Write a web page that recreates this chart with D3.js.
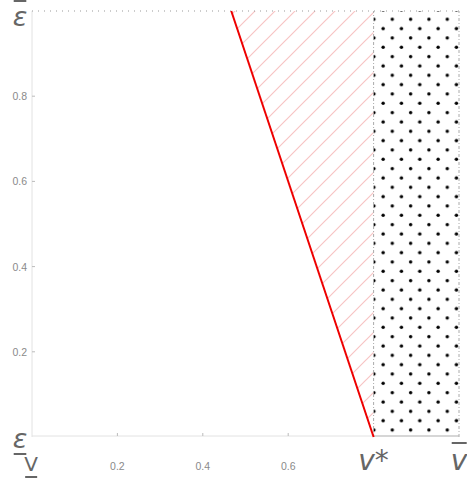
<!DOCTYPE html>
<html>
<head>
<meta charset="utf-8">
<script src="https://cdn.jsdelivr.net/npm/d3@7"></script>
<style>
  html, body { margin: 0; padding: 0; background: #fff; }
  svg { display: block; }
</style>
</head>
<body>
<svg id="chart" width="467" height="485"></svg>
<script>
// Threshold between the two regimes in valuation space
const vStar = 0.8;
const vMax = 1;
const eMax = 1;
// Boundary line v = vStar - e/3 (valuation v against noise level e)
const boundaryV = [0.8, 0.4667];
const boundaryE = [0, 1];
// Axis ticks
const xTicks = [0.2, 0.4, 0.6];
const yTicks = [0.2, 0.4, 0.6, 0.8];

const W = 467, H = 485;
const margin = { left: 32, right: 8, top: 11, bottom: 48 };

const svg = d3.select("#chart");
const x = d3.scaleLinear().domain([0, vMax]).range([margin.left, W - margin.right]);
const y = d3.scaleLinear().domain([0, eMax]).range([H - margin.bottom, margin.top]);

const defs = svg.append("defs");

// Pink diagonal hatching
const hatch = defs.append("pattern")
  .attr("id", "hatch")
  .attr("patternUnits", "userSpaceOnUse")
  .attr("x", 6).attr("y", 0)
  .attr("width", 20).attr("height", 20);
hatch.append("path")
  .attr("d", "M-2,2 L2,-2 M0,20 L20,0 M18,22 L22,18")
  .attr("stroke", "#f7c4c4")
  .attr("stroke-width", 1.2)
  .attr("fill", "none");

// Staggered dot grid
const dw = 18.33, dh = 18.67;
const dots = defs.append("pattern")
  .attr("id", "dots")
  .attr("patternUnits", "userSpaceOnUse")
  .attr("x", 387.7).attr("y", 14.6)
  .attr("width", dw).attr("height", dh);
dots.append("circle").attr("cx", dw / 4).attr("cy", dh / 4).attr("r", 1.7).attr("fill", "#000");
dots.append("circle").attr("cx", dw * 3 / 4).attr("cy", dh * 3 / 4).attr("r", 1.7).attr("fill", "#000");

// Axes (frame on left and bottom)
const axisColor = "#e2e2e2";
svg.append("line")
  .attr("x1", x(0)).attr("x2", x(vMax))
  .attr("y1", y(0) - 1).attr("y2", y(0) - 1)
  .attr("stroke", axisColor).attr("stroke-width", 1);
svg.append("line")
  .attr("x1", x(0)).attr("x2", x(0))
  .attr("y1", y(0)).attr("y2", y(eMax))
  .attr("stroke", axisColor).attr("stroke-width", 1);

// Tick marks
svg.selectAll(".xt").data(xTicks).join("line")
  .attr("x1", d => x(d)).attr("x2", d => x(d))
  .attr("y1", y(0) - 1).attr("y2", y(0) - 4)
  .attr("stroke", "#bbb").attr("stroke-width", 1);
svg.selectAll(".yt").data(yTicks).join("line")
  .attr("x1", x(0)).attr("x2", x(0) + 3)
  .attr("y1", d => y(d)).attr("y2", d => y(d))
  .attr("stroke", "#bbb").attr("stroke-width", 1);

// Tick labels
const tickFont = "'Liberation Sans', Arial, sans-serif";
svg.selectAll(".xl").data(xTicks).join("text")
  .attr("x", d => x(d)).attr("y", y(0) + 33)
  .attr("text-anchor", "middle")
  .attr("font-family", tickFont).attr("font-size", 10.5)
  .attr("fill", "#8a8a8a")
  .text(d => d3.format(".1f")(d));
svg.selectAll(".yl").data(yTicks).join("text")
  .attr("x", x(0) - 5).attr("y", d => y(d) + 4)
  .attr("text-anchor", "end")
  .attr("font-family", tickFont).attr("font-size", 10.5)
  .attr("fill", "#8a8a8a")
  .text(d => d3.format(".1f")(d));

// Hatched band between the boundary line and v*
const bandPts = [
  [boundaryV[0], boundaryE[0]],
  [boundaryV[1], boundaryE[1]],
  [vStar, eMax]
];
svg.append("path")
  .attr("d", d3.line().x(d => x(d[0])).y(d => y(d[1]))(bandPts) + "Z")
  .attr("fill", "url(#hatch)");

// Dotted region v* .. vMax
svg.append("rect")
  .attr("x", x(vStar)).attr("y", y(eMax))
  .attr("width", x(vMax) - x(vStar)).attr("height", y(0) - y(eMax))
  .attr("fill", "url(#dots)");

// Upper bound of noise
svg.append("line")
  .attr("x1", x(0)).attr("x2", x(vMax))
  .attr("y1", y(eMax)).attr("y2", y(eMax))
  .attr("stroke", "#999").attr("stroke-width", 1)
  .attr("stroke-dasharray", "1,5");

// v* and vMax verticals
[vStar, vMax].forEach(v => {
  svg.append("line")
    .attr("x1", x(v)).attr("x2", x(v))
    .attr("y1", y(0)).attr("y2", y(eMax))
    .attr("stroke", "#aaa").attr("stroke-width", 1)
    .attr("stroke-dasharray", "3,2,1,2");
});
// Base of dotted region
svg.append("line")
  .attr("x1", x(vStar)).attr("x2", x(vMax))
  .attr("y1", y(0) - 1).attr("y2", y(0) - 1)
  .attr("stroke", "#bbb").attr("stroke-width", 1);

// Boundary line
svg.append("path")
  .attr("d", d3.line().x((d, i) => x(boundaryV[i])).y((d, i) => y(boundaryE[i]))(boundaryV))
  .attr("stroke", "#ee0000").attr("stroke-width", 2).attr("fill", "none");

// Symbolic axis labels
const labFont = "'DejaVu Sans', sans-serif";
const labColor = "#666";
function label(tx, ty, str, size, italic, bar, off) {
  const t = svg.append("text")
    .attr("x", tx).attr("y", ty)
    .attr("text-anchor", "middle")
    .attr("font-family", labFont)
    .attr("font-size", size)
    .attr("font-style", italic ? "italic" : "normal")
    .attr("fill", labColor)
    .text(str);
  if (bar) {
    const b = t.node().getBBox();
    const yy = bar === "over" ? b.y + off : b.y + b.height + off;
    svg.append("line")
      .attr("x1", b.x + 1).attr("x2", b.x + b.width - 1)
      .attr("y1", yy).attr("y2", yy)
      .attr("stroke", labColor).attr("stroke-width", 2);
  }
  return t;
}

label(20, 26, "ε", 27, true, "over", 0);
label(20, 448, "ε", 27, true, "under", 0);
label(31, 471, "V", 20, false, "under", 1);
label(x(vStar), 470, "v*", 28, true, null);
label(x(vMax), 470, "v", 28, true, "over", -1);
</script>
</body>
</html>
